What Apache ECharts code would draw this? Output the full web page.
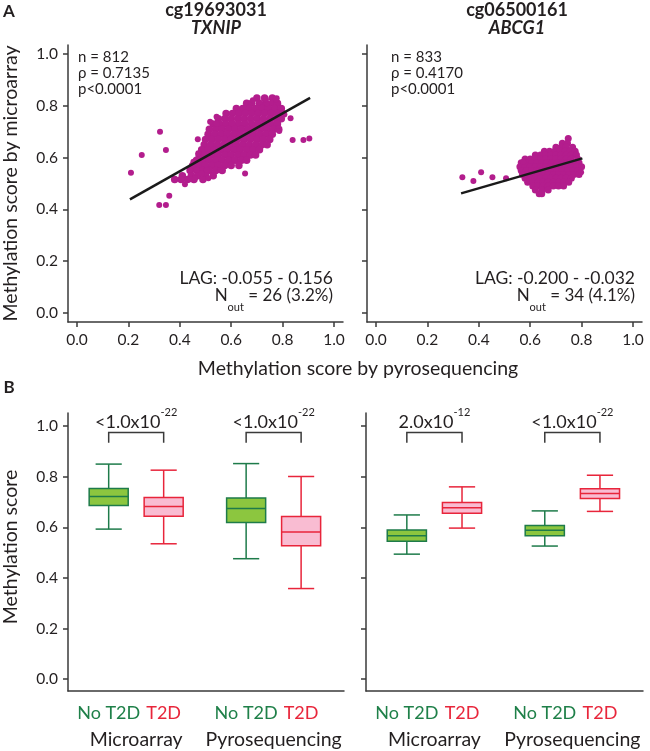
<!DOCTYPE html>
<html><head><meta charset="utf-8">
<script src="https://cdn.jsdelivr.net/npm/echarts@6/dist/echarts.min.js"></script>
<style>html,body{margin:0;padding:0;background:#fff}#c{width:650px;height:751px}</style>
</head><body><div id="c"></div>
<script>
// ---------- DATA ----------
const axisTicks = [0, 0.2, 0.4, 0.6, 0.8, 1.0];

// Panel A, TXNIP: dense cloud written as rows [y, [x values]], plus stray points
const txnipCloudRows = [
  [0.830, [0.70, 0.73, 0.76]],
  [0.810, [0.66, 0.68, 0.71, 0.735, 0.76, 0.78]],
  [0.790, [0.62, 0.645, 0.67, 0.695, 0.72, 0.745, 0.77, 0.795]],
  [0.770, [0.58, 0.605, 0.63, 0.655, 0.68, 0.705, 0.73, 0.755, 0.78, 0.80]],
  [0.750, [0.55, 0.575, 0.60, 0.625, 0.65, 0.675, 0.70, 0.725, 0.75, 0.775, 0.795]],
  [0.730, [0.53, 0.555, 0.58, 0.605, 0.63, 0.655, 0.68, 0.705, 0.73, 0.755, 0.78]],
  [0.710, [0.515, 0.54, 0.565, 0.59, 0.615, 0.64, 0.665, 0.69, 0.715, 0.74, 0.765, 0.785]],
  [0.690, [0.51, 0.535, 0.56, 0.585, 0.61, 0.635, 0.66, 0.685, 0.71, 0.735, 0.76]],
  [0.670, [0.50, 0.525, 0.55, 0.575, 0.60, 0.625, 0.65, 0.675, 0.70, 0.725, 0.75]],
  [0.650, [0.495, 0.52, 0.545, 0.57, 0.595, 0.62, 0.645, 0.67, 0.695, 0.72, 0.74]],
  [0.630, [0.485, 0.51, 0.535, 0.56, 0.585, 0.61, 0.635, 0.66, 0.685, 0.71]],
  [0.610, [0.475, 0.50, 0.525, 0.55, 0.575, 0.60, 0.625, 0.65, 0.675, 0.695]],
  [0.590, [0.465, 0.49, 0.515, 0.54, 0.565, 0.59, 0.615, 0.64, 0.66]],
  [0.570, [0.45, 0.475, 0.50, 0.525, 0.55, 0.575, 0.60, 0.63]],
  [0.550, [0.44, 0.465, 0.49, 0.515, 0.54, 0.565]],
  [0.530, [0.41, 0.445, 0.47, 0.50, 0.53]],
  [0.515, [0.38, 0.405, 0.43, 0.455, 0.49]]
];
const txnipStray = [
  [0.323,0.700],[0.252,0.610],[0.210,0.542],[0.346,0.629],[0.320,0.417],[0.346,0.417],
  [0.359,0.453],[0.470,0.671],[0.518,0.739],[0.543,0.758],[0.543,0.732],[0.654,0.539],
  [0.684,0.822],[0.777,0.829],[0.738,0.810],[0.807,0.767],[0.831,0.752],[0.787,0.703],
  [0.839,0.668],[0.881,0.668],[0.904,0.674],[0.774,0.825],[0.735,0.825],[0.472,0.617],
  [0.453,0.584],[0.381,0.516],[0.407,0.516],[0.420,0.497],[0.440,0.516],[0.459,0.520],
  [0.440,0.552],[0.466,0.552],[0.485,0.539],[0.505,0.552],[0.511,0.520],[0.530,0.533],[0.556,0.552]
];
const txnipFit = [[0.206, 0.439], [0.907, 0.831]];
const txnipStats = ['n = 812', 'ρ = 0.7135', 'p<0.0001'];
const txnipLag = 'LAG: -0.055 - 0.156';
const txnipNout = ' = 26 (3.2%)';

// Panel A, ABCG1
const abcg1CloudRows = [
  [0.674, [0.748]],
  [0.655, [0.725, 0.745]],
  [0.640, [0.70, 0.72, 0.74, 0.765]],
  [0.625, [0.655, 0.675, 0.695, 0.715, 0.735, 0.755, 0.775]],
  [0.610, [0.62, 0.64, 0.66, 0.68, 0.70, 0.72, 0.74, 0.76, 0.78]],
  [0.595, [0.58, 0.60, 0.62, 0.64, 0.66, 0.68, 0.70, 0.72, 0.74, 0.76, 0.785]],
  [0.580, [0.565, 0.585, 0.605, 0.625, 0.645, 0.665, 0.685, 0.705, 0.725, 0.745, 0.765, 0.79]],
  [0.565, [0.56, 0.58, 0.60, 0.62, 0.64, 0.66, 0.68, 0.70, 0.72, 0.74, 0.76, 0.78, 0.80]],
  [0.550, [0.565, 0.585, 0.605, 0.625, 0.645, 0.665, 0.685, 0.705, 0.725, 0.745, 0.765, 0.785]],
  [0.535, [0.57, 0.59, 0.61, 0.63, 0.65, 0.67, 0.69, 0.71, 0.73, 0.75, 0.77, 0.79]],
  [0.520, [0.58, 0.60, 0.62, 0.64, 0.66, 0.68, 0.70, 0.72, 0.74, 0.76]],
  [0.505, [0.59, 0.61, 0.63, 0.65, 0.67, 0.69, 0.71, 0.73, 0.75]],
  [0.490, [0.61, 0.63, 0.65, 0.67, 0.69, 0.71, 0.73]],
  [0.475, [0.62, 0.645, 0.67]],
  [0.460, [0.635, 0.645]]
];
const abcg1Stray = [[0.336,0.524],[0.379,0.510],[0.409,0.543],[0.453,0.524],[0.506,0.520],[0.798,0.543],[0.573,0.584]];
const abcg1Fit = [[0.331, 0.462], [0.803, 0.597]];
const abcg1Stats = ['n = 833', 'ρ = 0.4170', 'p<0.0001'];
const abcg1Lag = 'LAG: -0.200 - -0.032';
const abcg1Nout = ' = 34 (4.1%)';

// Panel B: boxes [lower whisker, Q1, median, Q3, upper whisker]
const boxCategories = ['No T2D', 'T2D', 'No T2D', 'T2D'];
const platformNames = ['Microarray', 'Pyrosequencing'];
const txnipBoxes = [
  [0.593, 0.686, 0.722, 0.754, 0.850],
  [0.535, 0.644, 0.682, 0.718, 0.826],
  [0.476, 0.619, 0.674, 0.716, 0.852],
  [0.358, 0.527, 0.582, 0.643, 0.801]
];
const abcg1Boxes = [
  [0.494, 0.545, 0.567, 0.589, 0.649],
  [0.597, 0.656, 0.677, 0.698, 0.760],
  [0.526, 0.567, 0.588, 0.607, 0.665],
  [0.663, 0.714, 0.734, 0.753, 0.806]
];
const txnipPvals = [['<1.0x10', '-22'], ['<1.0x10', '-22']];
const abcg1Pvals = [['2.0x10', '-12'], ['<1.0x10', '-22']];

// ---------- LAYOUT / STYLE ----------
const FONT = 'Lato, "Open Sans", sans-serif';
const TXT = '#231f20';
const AX = '#3a3a3a';
const DOT = '#b31d8d';
const GREEN_FILL = '#8cc63f', GREEN_LINE = '#1e7b4a', GREEN_TEXT = '#1f8049';
const PINK_FILL = '#f9bcd2', RED_LINE = '#e8253b', RED_TEXT = '#e8263b';
const boxSlots = [1, 2, 3.5, 4.5];
const platformCenters = [1.5, 4.0];
const BOX_W = 0.71;
const BRACKET_TOP = 0.975, BRACKET_LEG = 0.934;

function flatten(rows) {
  const out = [];
  rows.forEach(([y, xs]) => xs.forEach(x => out.push([x, y])));
  return out;
}

const axisLineStyle = { show: true, onZero: false, lineStyle: { color: AX, width: 1.5 } };
function tickCfg() { return { show: true, length: 5, customValues: axisTicks, lineStyle: { color: AX, width: 1.5 } }; }
function labelCfg(show) {
  return { show, customValues: axisTicks, formatter: v => v.toFixed(1), color: TXT, fontSize: 15.5, fontFamily: FONT, margin: 10 };
}
function scatterX(g) {
  return { type: 'value', gridIndex: g, min: -0.035, max: 1.035, axisLine: axisLineStyle, axisTick: tickCfg(), axisLabel: labelCfg(true), splitLine: { show: false } };
}
function scatterY(g, show) {
  return { type: 'value', gridIndex: g, min: -0.035, max: 1.035, axisLine: axisLineStyle, axisTick: tickCfg(), axisLabel: labelCfg(show), splitLine: { show: false } };
}
function boxY(g, show) {
  return { type: 'value', gridIndex: g, min: -0.047, max: 1.052, axisLine: axisLineStyle, axisTick: tickCfg(), axisLabel: labelCfg(show), splitLine: { show: false } };
}
function boxX(g) {
  return {
    type: 'value', gridIndex: g, min: 0.26, max: 5.28, axisLine: axisLineStyle, axisTick: { show: false }, splitLine: { show: false },
    axisLabel: {
      customValues: boxSlots, margin: 13,
      formatter: v => boxCategories[boxSlots.indexOf(v)] === 'T2D' ? '{r|T2D}' : '{g|No T2D}',
      rich: { g: { color: GREEN_TEXT, fontSize: 18, fontFamily: FONT }, r: { color: RED_TEXT, fontSize: 18, fontFamily: FONT } }
    }
  };
}
function groupX(g) {
  return {
    type: 'value', gridIndex: g, min: 0.26, max: 5.28, position: 'bottom', offset: 26,
    axisLine: { show: false }, axisTick: { show: false }, splitLine: { show: false },
    axisLabel: { customValues: platformCenters, margin: 13, formatter: v => platformNames[platformCenters.indexOf(v)], color: TXT, fontSize: 19.5, fontFamily: FONT }
  };
}

function boxRender(params, api) {
  const x = api.value(0);
  const lo = api.coord([x, api.value(1)]);
  const q1 = api.coord([x, api.value(2)]);
  const md = api.coord([x, api.value(3)]);
  const q3 = api.coord([x, api.value(4)]);
  const hi = api.coord([x, api.value(5)]);
  const t2d = api.value(6) === 1;
  const bw = api.size([BOX_W, 0])[0];
  const cw = bw * 0.67;
  const stroke = t2d ? RED_LINE : GREEN_LINE;
  const fill = t2d ? PINK_FILL : GREEN_FILL;
  const cx = md[0];
  const ls = { stroke, lineWidth: 1.5, fill: null };
  return { type: 'group', children: [
    { type: 'line', shape: { x1: cx, y1: hi[1], x2: cx, y2: q3[1] }, style: ls },
    { type: 'line', shape: { x1: cx, y1: q1[1], x2: cx, y2: lo[1] }, style: ls },
    { type: 'line', shape: { x1: cx - cw / 2, y1: hi[1], x2: cx + cw / 2, y2: hi[1] }, style: ls },
    { type: 'line', shape: { x1: cx - cw / 2, y1: lo[1], x2: cx + cw / 2, y2: lo[1] }, style: ls },
    { type: 'rect', shape: { x: cx - bw / 2, y: q3[1], width: bw, height: q1[1] - q3[1] }, style: { fill, stroke, lineWidth: 1.5 } },
    { type: 'line', shape: { x1: cx - bw / 2, y1: md[1], x2: cx + bw / 2, y2: md[1] }, style: ls }
  ] };
}
function bracketRender(pvals) {
  return function (params, api) {
    const a = api.coord([api.value(0), BRACKET_TOP]);
    const b = api.coord([api.value(1), BRACKET_TOP]);
    const leg = api.coord([api.value(0), BRACKET_LEG])[1];
    const pv = pvals[params.dataIndex];
    return { type: 'group', children: [
      { type: 'polyline', shape: { points: [[a[0], leg], [a[0], a[1]], [b[0], b[1]], [b[0], leg]] }, style: { stroke: AX, lineWidth: 1.5, fill: null } },
      { type: 'text', x: (a[0] + b[0]) / 2, y: a[1] - 1, style: {
        text: '{m|' + pv[0] + '}{s|' + pv[1] + '}', align: 'center', verticalAlign: 'bottom',
        rich: { m: { fontSize: 18, fontFamily: FONT, fill: TXT, lineHeight: 25, verticalAlign: 'bottom' },
                s: { fontSize: 11, fontFamily: FONT, fill: TXT, verticalAlign: 'top' } } } }
    ] };
  };
}
function boxData(boxes) { return boxes.map((b, i) => [boxSlots[i]].concat(b, [boxCategories[i] === 'T2D' ? 1 : 0])); }
function bracketData() { return [[boxSlots[0], boxSlots[1], 0], [boxSlots[2], boxSlots[3], 1]]; }

function txt(x, y, text, extra) {
  return { type: 'text', x, y, style: Object.assign({ text, fill: TXT, fontFamily: FONT, fontSize: 15 }, extra || {}) };
}
function noutText(x, y, rest) {
  return { type: 'text', x, y, style: {
    text: '{a|N}{b|out}{a|' + rest + '}', align: 'right', verticalAlign: 'top',
    rich: { a: { fontSize: 17, fontFamily: FONT, fill: TXT, lineHeight: 17, verticalAlign: 'top' },
            b: { fontSize: 11, fontFamily: FONT, fill: TXT, lineHeight: 26, verticalAlign: 'bottom' } } } };
}
const scat = (xi, data, size) => ({ type: 'scatter', xAxisIndex: xi, yAxisIndex: xi, symbolSize: size, itemStyle: { color: DOT, opacity: 1 }, data });
const fitLine = (xi, data) => ({ type: 'line', xAxisIndex: xi, yAxisIndex: xi, z: 5, showSymbol: false, lineStyle: { color: '#1a1a1a', width: 2.5 }, data });

const chart = echarts.init(document.getElementById('c'), null, { renderer: 'canvas' });
chart.setOption({
  animation: false,
  backgroundColor: '#fff',
  grid: [
    { left: 68, top: 45, width: 275, height: 277 },
    { left: 367, top: 45, width: 275, height: 277 },
    { left: 68, top: 413, width: 276, height: 278 },
    { left: 366, top: 413, width: 277, height: 278 }
  ],
  xAxis: [scatterX(0), scatterX(1), boxX(2), boxX(3), groupX(2), groupX(3)],
  yAxis: [scatterY(0, true), scatterY(1, false), boxY(2, true), boxY(3, false)],
  series: [
    scat(0, flatten(txnipCloudRows), 7.5),
    scat(0, txnipStray, 6),
    fitLine(0, txnipFit),
    scat(1, flatten(abcg1CloudRows), 7),
    scat(1, abcg1Stray, 6),
    fitLine(1, abcg1Fit),
    { type: 'custom', xAxisIndex: 2, yAxisIndex: 2, renderItem: boxRender, encode: { x: 0, y: [1, 2, 3, 4, 5] }, data: boxData(txnipBoxes) },
    { type: 'custom', xAxisIndex: 2, yAxisIndex: 2, renderItem: bracketRender(txnipPvals), encode: { x: [0, 1], y: 2 }, data: bracketData() },
    { type: 'custom', xAxisIndex: 3, yAxisIndex: 3, renderItem: boxRender, encode: { x: 0, y: [1, 2, 3, 4, 5] }, data: boxData(abcg1Boxes) },
    { type: 'custom', xAxisIndex: 3, yAxisIndex: 3, renderItem: bracketRender(abcg1Pvals), encode: { x: [0, 1], y: 2 }, data: bracketData() }
  ],
  graphic: [
    txt(9, 12, 'A', { fontWeight: 'bold', fontSize: 17, align: 'center', verticalAlign: 'middle' }),
    txt(9, 388, 'B', { fontWeight: 'bold', fontSize: 17, align: 'center', verticalAlign: 'middle' }),
    txt(216, 10, 'cg19693031', { fontWeight: 'bold', fontSize: 18, align: 'center', verticalAlign: 'middle' }),
    txt(216, 28, 'TXNIP', { fontWeight: 'bold', fontStyle: 'italic', fontSize: 18, align: 'center', verticalAlign: 'middle' }),
    txt(517, 10, 'cg06500161', { fontWeight: 'bold', fontSize: 18, align: 'center', verticalAlign: 'middle' }),
    txt(517, 28, 'ABCG1', { fontWeight: 'bold', fontStyle: 'italic', fontSize: 18, align: 'center', verticalAlign: 'middle' }),
    txt(78, 49, txnipStats.join('\n'), { lineHeight: 16, verticalAlign: 'top' }),
    txt(391, 49, abcg1Stats.join('\n'), { lineHeight: 16, verticalAlign: 'top' }),
    txt(333, 278, txnipLag, { fontSize: 17.5, align: 'right', verticalAlign: 'middle' }),
    noutText(333, 287, txnipNout),
    txt(635, 278, abcg1Lag, { fontSize: 17.5, align: 'right', verticalAlign: 'middle' }),
    noutText(635, 287, abcg1Nout),
    txt(11, 183.5, 'Methylation score by microarray', { fontSize: 19.5, align: 'center', verticalAlign: 'middle' }),
    txt(358, 369, 'Methylation score by pyrosequencing', { fontSize: 19.5, align: 'center', verticalAlign: 'middle' }),
    txt(11, 547, 'Methylation score', { fontSize: 19.5, align: 'center', verticalAlign: 'middle' })
  ].map((g, i) => (i === 12 || i === 14) ? Object.assign(g, { rotation: Math.PI / 2 }) : g)
});
</script></body></html>
